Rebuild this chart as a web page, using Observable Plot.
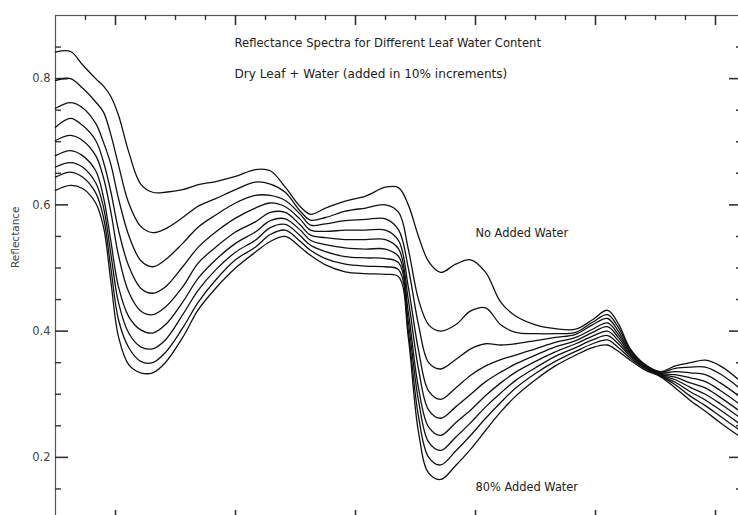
<!DOCTYPE html>
<html>
<head>
<meta charset="utf-8">
<style>
html, body { margin: 0; padding: 0; overflow: hidden; background: #fff; }
#chart { width: 745px; }
</style>
<script src="https://cdn.jsdelivr.net/npm/d3@7"></script>
<script src="https://cdn.jsdelivr.net/npm/@observablehq/plot@0.6"></script>
</head>
<body>
<div id="chart"></div>
<script>
// Wavelength samples (nm)
const wavelengths = [1300,1325,1345,1367,1380,1392,1405,1422,1442,1462,1483,1512,1538,1567,1600,1633,1658,1683,1708,1725,1750,1783,1817,1850,1872,1888,1905,1922,1942,1967,1992,2017,2042,2067,2100,2133,2167,2195,2220,2238,2258,2283,2308,2333,2358,2383,2408,2445];

const seriesNames = ["0%","10%","20%","30%","40%","50%","60%","70%","80%"];

// Reflectance for each water level
const r0 = [.842,.843,.822,.80,.788,.772,.742,.684,.633,.62,.62,.624,.632,.637,.645,.656,.654,.628,.597,.585,.595,.606,.614,.628,.627,.6,.55,.51,.493,.506,.513,.493,.446,.424,.41,.404,.403,.418,.433,.412,.372,.347,.336,.345,.35,.354,.345,.318];
const r1 = [.797,.80,.785,.763,.747,.712,.663,.603,.566,.556,.562,.58,.598,.61,.624,.636,.633,.62,.59,.576,.58,.59,.595,.6,.588,.53,.45,.41,.40,.41,.432,.437,.41,.398,.396,.396,.398,.414,.426,.406,.37,.346,.335,.341,.343,.343,.332,.306];
const r2 = [.753,.762,.754,.729,.699,.665,.61,.552,.512,.502,.513,.539,.565,.584,.603,.615,.615,.607,.585,.568,.57,.575,.577,.578,.56,.5,.41,.35,.34,.355,.372,.38,.378,.38,.385,.39,.395,.41,.42,.40,.368,.345,.334,.336,.334,.331,.318,.293];
const r3 = [.723,.737,.726,.702,.668,.622,.56,.503,.468,.46,.47,.502,.533,.557,.579,.595,.603,.597,.577,.56,.558,.56,.56,.56,.543,.47,.37,.305,.292,.31,.33,.345,.355,.362,.372,.382,.39,.403,.413,.395,.366,.344,.333,.331,.326,.32,.306,.281];
const r4 = [.702,.71,.702,.678,.643,.59,.52,.462,.432,.426,.438,.47,.508,.533,.557,.573,.588,.588,.568,.552,.548,.545,.545,.545,.53,.45,.34,.275,.262,.28,.30,.32,.335,.348,.362,.375,.385,.398,.407,.39,.364,.343,.332,.327,.318,.31,.295,.27];
const r5 = [.678,.686,.678,.654,.612,.544,.47,.423,.402,.397,.41,.446,.484,.513,.539,.557,.575,.578,.56,.544,.537,.532,.53,.53,.518,.43,.31,.248,.235,.255,.275,.298,.318,.335,.352,.367,.38,.392,.40,.385,.362,.342,.331,.323,.311,.30,.285,.26];
const r6 = [.66,.667,.66,.635,.596,.524,.445,.397,.375,.372,.386,.426,.465,.497,.525,.544,.564,.569,.551,.536,.526,.518,.516,.515,.508,.415,.29,.224,.211,.232,.255,.28,.302,.322,.342,.36,.374,.386,.393,.38,.36,.341,.33,.319,.304,.291,.275,.25];
const r7 = [.644,.652,.644,.619,.58,.502,.418,.374,.352,.35,.366,.405,.446,.481,.513,.533,.553,.56,.542,.528,.515,.506,.503,.502,.497,.40,.265,.20,.188,.21,.235,.262,.287,.31,.333,.352,.368,.38,.386,.374,.357,.34,.329,.315,.297,.282,.265,.24];
const r8 = [.623,.631,.626,.603,.565,.481,.391,.347,.334,.334,.35,.39,.434,.468,.50,.525,.542,.55,.533,.52,.505,.494,.491,.49,.486,.39,.24,.175,.165,.187,.213,.243,.272,.297,.323,.345,.362,.374,.378,.368,.354,.338,.328,.31,.29,.273,.255,.23];

const reflectance = [r0, r1, r2, r3, r4, r5, r6, r7, r8];

// Axis ticks
const yMajor = [0.2, 0.4, 0.6, 0.8];
const yMinor = [0.15, 0.25, 0.3, 0.35, 0.45, 0.5, 0.55, 0.65, 0.7, 0.75, 0.85];
const xMajor = [1400, 1600, 1800, 2000, 2200, 2400];
const xMinor = [1350, 1450, 1500, 1550, 1650, 1700, 1750, 1850, 1900, 1950, 2050, 2100, 2150, 2250, 2300, 2350];

// Texts
const titleText = "Reflectance Spectra for Different Leaf Water Content";
const subtitleText = "Dry Leaf + Water (added in 10% increments)";
const topLabel = "No Added Water";
const bottomLabel = "80% Added Water";
const yLabel = "Reflectance";

const rows = [];
seriesNames.forEach((s, i) => {
  wavelengths.forEach((w, j) => rows.push({series: s, wl: w, r: reflectance[i][j]}));
});

const W = 745, H = 524;
const mL = 55, mR = 3, mT = 15, mB = 4;
const fw = W - mL - mR, fh = H - mT - mB;
const tickColor = "#333";

const chart = Plot.plot({
  width: W,
  height: H,
  marginLeft: mL,
  marginRight: mR,
  marginTop: mT,
  marginBottom: mB,
  style: {fontFamily: "DejaVu Sans, sans-serif", fontSize: "11px", background: "#fff", maxWidth: "none"},
  x: {domain: [1300, 2445], axis: null},
  y: {domain: [0.1, 0.9], axis: null},
  marks: [
    Plot.frame({stroke: "#555", strokeWidth: 1.2}),
    // ticks: top / bottom
    Plot.tickX(xMajor, {x: d => d, stroke: tickColor, strokeWidth: 1.6, insetBottom: fh - 10}),
    Plot.tickX(xMinor, {x: d => d, stroke: tickColor, strokeWidth: 1.4, insetBottom: fh - 5}),
    Plot.tickX(xMajor, {x: d => d, stroke: tickColor, strokeWidth: 1.6, insetTop: fh - 10}),
    Plot.tickX(xMinor, {x: d => d, stroke: tickColor, strokeWidth: 1.4, insetTop: fh - 5}),
    // ticks: left / right
    Plot.tickY(yMajor, {y: d => d, stroke: tickColor, strokeWidth: 1.6, insetRight: fw - 13}),
    Plot.tickY(yMinor, {y: d => d, stroke: tickColor, strokeWidth: 1.4, insetRight: fw - 6}),
    Plot.tickY(yMajor, {y: d => d, stroke: tickColor, strokeWidth: 1.6, insetLeft: fw - 13}),
    Plot.tickY(yMinor, {y: d => d, stroke: tickColor, strokeWidth: 1.4, insetLeft: fw - 6}),
    Plot.axisY({ticks: yMajor, tickSize: 0, tickPadding: 5, tickFormat: d3.format(".1f"), label: null, fontSize: 11.5, fill: "#444", anchor: "left"}),
    Plot.text([yLabel], {frameAnchor: "left", dx: -40, rotate: -90, fontSize: 10.5, fill: "#444"}),
    // spectra
    Plot.line(rows, {x: "wl", y: "r", z: "series", stroke: "#111", strokeWidth: 1.3, curve: "catmull-rom"}),
    // annotations
    Plot.text([titleText], {frameAnchor: "top-left", dx: 179, dy: 28, textAnchor: "start", lineAnchor: "middle", fontSize: 11.6, fill: "#222"}),
    Plot.text([subtitleText], {frameAnchor: "top-left", dx: 179, dy: 59, textAnchor: "start", lineAnchor: "middle", fontSize: 12.1, fill: "#222"}),
    Plot.text([topLabel], {frameAnchor: "top-left", dx: 420, dy: 218, textAnchor: "start", lineAnchor: "middle", fontSize: 11.4, fill: "#222"}),
    Plot.text([bottomLabel], {frameAnchor: "top-left", dx: 420, dy: 472, textAnchor: "start", lineAnchor: "middle", fontSize: 11.4, fill: "#222"})
  ]
});

document.getElementById("chart").appendChild(chart);
</script>
</body>
</html>
